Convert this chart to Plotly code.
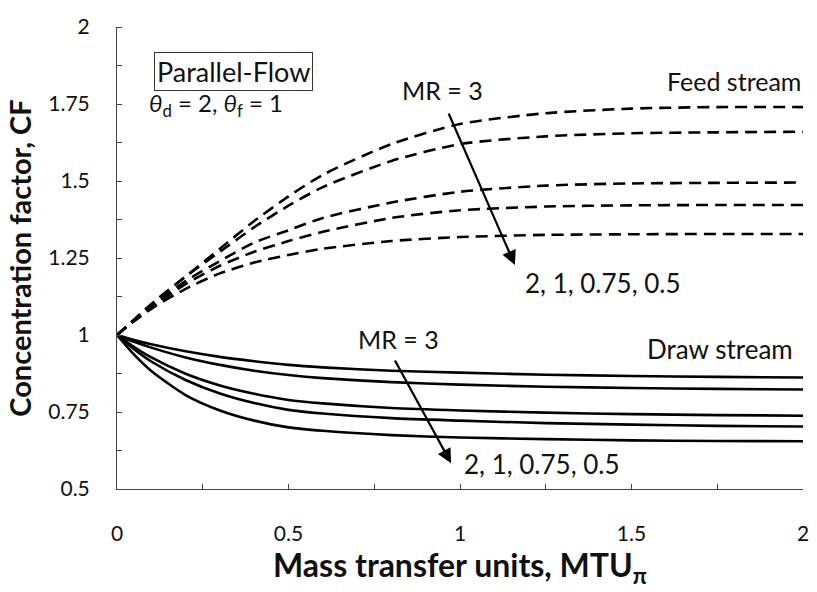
import plotly.graph_objects as go

# MTU values (x) shared by all curves
mtu = [0, 0.05, 0.1, 0.2, 0.3, 0.4, 0.5, 0.6, 0.8, 1.0, 1.25, 1.5, 1.75, 2.0]

mr_labels = ["3", "2", "1", "0.75", "0.5"]

# Feed stream concentration factor (dashed), MR = 3, 2, 1, 0.75, 0.5
feed_mr3 = [1.00, 1.05, 1.10, 1.19, 1.28, 1.37, 1.45, 1.52, 1.62, 1.685, 1.72, 1.735, 1.74, 1.74]
feed_mr2 = [1.00, 1.05, 1.10, 1.19, 1.27, 1.35, 1.42, 1.48, 1.565, 1.62, 1.645, 1.655, 1.658, 1.66]
feed_mr1 = [1.00, 1.048, 1.095, 1.175, 1.24, 1.30, 1.34, 1.38, 1.43, 1.465, 1.485, 1.492, 1.494, 1.495]
feed_mr075 = [1.00, 1.047, 1.09, 1.165, 1.225, 1.27, 1.305, 1.335, 1.38, 1.405, 1.417, 1.421, 1.422, 1.422]
feed_mr05 = [1.00, 1.045, 1.085, 1.15, 1.20, 1.235, 1.26, 1.28, 1.305, 1.318, 1.325, 1.327, 1.328, 1.328]

# Draw stream concentration factor (solid), MR = 3, 2, 1, 0.75, 0.5
draw_mr3 = [1.00, 0.984, 0.970, 0.947, 0.929, 0.915, 0.903, 0.895, 0.884, 0.878, 0.871, 0.867, 0.864, 0.862]
draw_mr2 = [1.00, 0.978, 0.959, 0.927, 0.903, 0.884, 0.870, 0.860, 0.847, 0.839, 0.832, 0.828, 0.825, 0.823]
draw_mr1 = [1.00, 0.961, 0.927, 0.874, 0.836, 0.809, 0.789, 0.778, 0.763, 0.755, 0.748, 0.743, 0.740, 0.738]
draw_mr075 = [1.00, 0.954, 0.914, 0.854, 0.810, 0.779, 0.757, 0.745, 0.730, 0.722, 0.714, 0.709, 0.705, 0.703]
draw_mr05 = [1.00, 0.936, 0.883, 0.805, 0.755, 0.722, 0.700, 0.689, 0.675, 0.667, 0.662, 0.658, 0.656, 0.655]

feed_series = [feed_mr3, feed_mr2, feed_mr1, feed_mr075, feed_mr05]
draw_series = [draw_mr3, draw_mr2, draw_mr1, draw_mr075, draw_mr05]

x_ticks = [0, 0.5, 1, 1.5, 2]
x_ticktext = ["0", "0.5", "1", "1.5", "2"]
y_ticks = [0.5, 0.75, 1, 1.25, 1.5, 1.75, 2]
y_ticktext = ["0.5", "0.75", "1", "1.25", "1.5", "1.75", "2"]

FONT = "Lato"
INK = "#111111"
AXC = "#444444"

fig = go.Figure()
for lbl, ys in zip(mr_labels, feed_series):
    fig.add_trace(go.Scatter(
        x=mtu, y=ys, mode="lines", name=f"Feed, MR = {lbl}",
        line=dict(color="black", width=2.6, dash="12px,7px", shape="spline", smoothing=0.7),
        showlegend=False, hoverinfo="skip"))
for lbl, ys in zip(mr_labels, draw_series):
    fig.add_trace(go.Scatter(
        x=mtu, y=ys, mode="lines", name=f"Draw, MR = {lbl}",
        line=dict(color="black", width=2.6, shape="spline", smoothing=0.7),
        showlegend=False, hoverinfo="skip"))

fig.update_xaxes(
    range=[0, 2], tickvals=x_ticks, ticktext=x_ticktext,
    showgrid=False, zeroline=False, showline=True, linecolor=AXC, linewidth=1,
    ticks="inside", ticklen=5, tickcolor=AXC, tickwidth=1,
    tickfont=dict(family=FONT, size=21, color=INK),
    minor=dict(dtick=0.25, ticks="inside", ticklen=5, tickcolor=AXC),
    ticklabelstandoff=26,
    title=dict(text="Mass transfer units, MTU<sub>π</sub>",
               font=dict(family=FONT, size=32, color=INK, weight="bold"), standoff=8),
)
# y labels pushed away from the axis with transparent outside ticks;
# the visible inside tick marks come from the minor ticks (every 0.125)
fig.update_yaxes(
    range=[0.5, 2], tickvals=y_ticks, ticktext=y_ticktext,
    showgrid=False, zeroline=False, showline=True, linecolor=AXC, linewidth=1,
    ticks="outside", ticklen=22, tickcolor="rgba(0,0,0,0)", tickwidth=1,
    tickfont=dict(family=FONT, size=21, color=INK),
    minor=dict(tickvals=[0.5 + 0.125 * i for i in range(13)], ticks="inside",
               ticklen=5, tickcolor=AXC),
    title=dict(text="Concentration factor, CF",
               font=dict(family=FONT, size=29, color=INK, weight="bold"), standoff=8),
)

def note(text, x, y, size=25, xanchor="center", **kw):
    fig.add_annotation(text=text, x=x, y=y, xref="x", yref="y", showarrow=False,
                       xanchor=xanchor, yanchor="middle",
                       font=dict(family=FONT, size=size, color=INK), **kw)

note("Parallel-Flow", 0.34, 1.857, size=27, bordercolor="#333333", borderwidth=1, borderpad=2)
note("<i>θ</i><sub>d</sub> = 2, <i>θ</i><sub>f</sub> = 1", 0.29, 1.75, size=24)
note("MR = 3", 0.948, 1.795)
note("Feed stream", 2.0, 1.825, xanchor="right")
note("2, 1, 0.75, 0.5", 1.183, 1.169, xanchor="left", size=26)
note("MR = 3", 0.82, 0.987)
note("Draw stream", 1.977, 0.955, xanchor="right", size=26)
note("2, 1, 0.75, 0.5", 1.006, 0.581, xanchor="left", size=26)

# arrows (tail -> head)
for (x0, y0, x1, y1) in [(0.965, 1.724, 1.16, 1.227), (0.808, 0.922, 0.974, 0.584)]:
    fig.add_annotation(x=x1, y=y1, ax=x0, ay=y0, xref="x", yref="y", axref="x", ayref="y",
                       showarrow=True, arrowhead=2, arrowsize=1.3, arrowwidth=2.2,
                       arrowcolor="black", text="")

fig.update_layout(
    width=817, height=592,
    margin=dict(l=117, r=8, t=27, b=103),
    paper_bgcolor="white", plot_bgcolor="white",
    font=dict(family=FONT, color=INK),
    showlegend=False,
)

fig.write_html("out.html")
